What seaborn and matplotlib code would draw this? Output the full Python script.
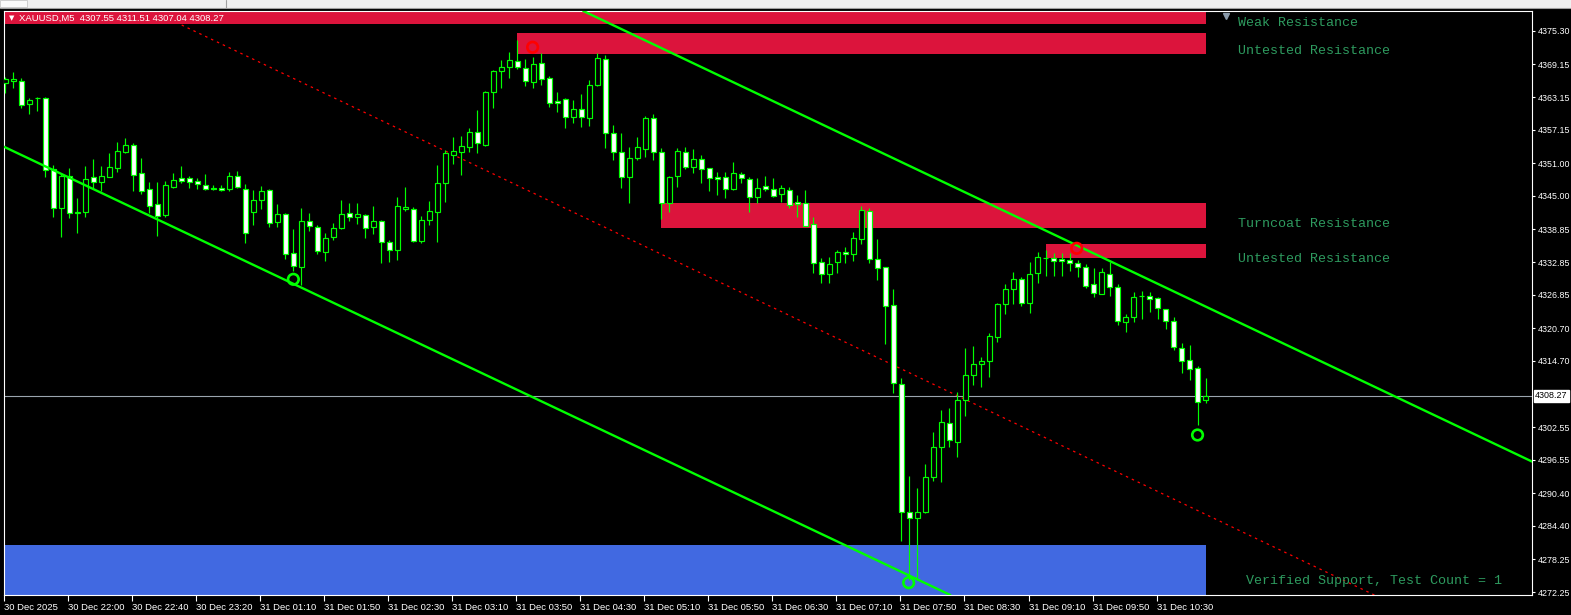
import numpy as np
import matplotlib
matplotlib.use("Agg")
import matplotlib.pyplot as plt
import matplotlib.transforms as mtransforms
from matplotlib.patches import Rectangle
from matplotlib.lines import Line2D
import seaborn as sns

# ---------------- data ----------------
symbol_title = "XAUUSD,M5  4307.55 4311.51 4307.04 4308.27"

opens = [4365.69, 4366.06, 4366.12, 4361.84, 4362.90, 4362.94, 4349.90, 4342.73, 4348.67, 4341.81,
         4342.00, 4348.43, 4347.51, 4348.54, 4350.19, 4353.13, 4354.30, 4349.16, 4346.22, 4343.47,
         4341.50, 4346.70, 4348.30, 4348.24, 4347.69, 4346.96, 4346.41, 4346.46, 4346.33, 4348.61,
         4346.22, 4342.00, 4344.26, 4346.09, 4340.27, 4341.63, 4334.47, 4331.89, 4340.45, 4339.30,
         4334.65, 4337.41, 4339.06, 4341.81, 4341.08, 4341.45, 4339.24, 4340.34, 4336.49, 4335.07,
         4342.55, 4342.60, 4336.78, 4340.58, 4342.11, 4347.32, 4352.58, 4353.13, 4354.05, 4356.75,
         4354.36, 4364.04, 4368.01, 4368.63, 4369.73, 4368.56, 4365.99, 4369.37, 4366.61, 4362.44,
         4362.75, 4359.56, 4360.92, 4359.26, 4365.38, 4370.10, 4356.51, 4353.13, 4348.54, 4351.92,
         4353.57, 4359.26, 4353.02, 4343.65, 4348.67, 4353.13, 4350.37, 4351.73, 4350.08, 4348.43,
         4348.43, 4346.22, 4349.03, 4348.06, 4344.86, 4346.83, 4346.22, 4345.30, 4346.09, 4343.94,
         4343.65, 4339.79, 4332.81, 4330.61, 4332.81, 4334.65, 4334.28, 4337.15, 4342.24, 4333.36,
         4331.89, 4324.91, 4310.40, 4286.89, 4285.79, 4287.00, 4293.32, 4298.83, 4303.24, 4299.86,
         4307.52, 4312.06, 4314.08, 4314.74, 4319.15, 4325.10, 4327.85, 4329.69, 4325.28, 4330.79,
         4333.60, 4333.55, 4333.45, 4333.29, 4332.63, 4332.00, 4328.77, 4327.05, 4330.61, 4328.22,
         4321.90, 4322.71, 4326.60, 4326.68, 4326.20, 4324.23, 4321.97, 4317.01, 4314.81, 4313.34,
         4307.55]
highs = [4366.85, 4367.77, 4366.61, 4363.05, 4363.23, 4363.12, 4350.69, 4349.16, 4350.08, 4344.68,
         4350.50, 4351.79, 4350.50, 4352.94, 4354.97, 4355.59, 4354.67, 4352.03, 4347.62, 4347.62,
         4347.75, 4349.16, 4350.50, 4348.67, 4348.24, 4348.98, 4346.96, 4347.07, 4349.46, 4349.58,
         4347.14, 4346.09, 4346.83, 4346.20, 4343.52, 4341.81, 4338.93, 4342.73, 4341.81, 4339.66,
         4338.14, 4339.98, 4344.26, 4343.65, 4343.65, 4341.69, 4343.15, 4340.58, 4336.91, 4344.86,
         4346.70, 4342.92, 4341.32, 4344.07, 4350.69, 4353.44, 4355.88, 4356.01, 4357.54, 4360.79,
         4364.28, 4368.14, 4369.97, 4371.39, 4373.65, 4370.16, 4370.58, 4371.20, 4367.03, 4364.15,
         4362.94, 4362.63, 4363.73, 4366.30, 4371.20, 4370.89, 4358.03, 4356.51, 4354.05, 4355.77,
         4359.69, 4360.00, 4353.75, 4348.72, 4353.86, 4354.05, 4353.57, 4352.52, 4350.10, 4349.46,
         4349.46, 4351.29, 4349.46, 4348.54, 4348.24, 4348.67, 4348.24, 4347.01, 4346.70, 4345.18,
         4346.09, 4341.19, 4333.55, 4333.73, 4335.07, 4335.68, 4338.43, 4343.15, 4342.73, 4337.09,
         4331.95, 4327.91, 4311.50, 4293.56, 4291.30, 4295.76, 4301.59, 4305.68, 4305.99, 4309.04,
         4317.01, 4317.44, 4315.36, 4319.77, 4325.28, 4328.83, 4331.03, 4330.06, 4332.92, 4334.76,
         4335.07, 4334.47, 4334.47, 4334.47, 4333.24, 4332.45, 4331.71, 4331.71, 4332.92, 4328.77,
         4323.32, 4327.41, 4327.54, 4327.30, 4326.38, 4324.30, 4322.71, 4317.93, 4317.62, 4313.76,
         4311.51]
lows = [4363.91, 4364.83, 4361.10, 4360.00, 4360.66, 4348.43, 4341.19, 4337.41, 4340.90, 4338.14,
        4341.19, 4346.28, 4345.91, 4348.40, 4349.46, 4352.84, 4345.91, 4345.30, 4341.92, 4337.70,
        4341.19, 4346.52, 4347.32, 4346.52, 4346.22, 4346.09, 4346.09, 4345.96, 4345.96, 4346.41,
        4336.41, 4339.72, 4342.60, 4339.35, 4339.35, 4333.42, 4331.27, 4328.59, 4338.62, 4334.34,
        4333.05, 4336.91, 4338.93, 4340.45, 4339.79, 4337.33, 4338.01, 4332.63, 4332.81, 4333.24,
        4342.29, 4336.60, 4336.30, 4339.66, 4336.60, 4343.94, 4350.87, 4348.85, 4353.13, 4352.84,
        4354.18, 4361.10, 4364.78, 4366.61, 4368.40, 4365.25, 4364.89, 4365.38, 4361.28, 4360.48,
        4357.43, 4358.35, 4357.61, 4357.85, 4365.25, 4353.75, 4351.60, 4346.41, 4343.65, 4351.60,
        4352.21, 4351.60, 4340.71, 4342.00, 4346.59, 4349.90, 4349.27, 4347.43, 4345.96, 4345.18,
        4344.57, 4346.09, 4347.32, 4342.11, 4343.65, 4345.96, 4344.75, 4343.94, 4342.73, 4341.19,
        4339.40, 4330.79, 4329.07, 4329.07, 4330.79, 4332.63, 4333.05, 4336.17, 4332.63, 4329.56,
        4317.75, 4308.75, 4281.67, 4274.45, 4274.45, 4286.82, 4292.70, 4292.40, 4298.83, 4297.10,
        4304.63, 4310.27, 4309.85, 4311.80, 4318.23, 4323.32, 4325.10, 4324.79, 4323.55, 4328.96,
        4330.35, 4330.35, 4330.35, 4331.27, 4330.17, 4328.04, 4326.49, 4326.93, 4326.62, 4321.30,
        4320.06, 4321.90, 4322.40, 4323.74, 4322.40, 4320.56, 4316.70, 4312.53, 4311.19, 4302.93,
        4307.04]
closes = [4366.48, 4366.43, 4361.65, 4362.63, 4362.96, 4349.77, 4342.73, 4348.67, 4341.81, 4342.00,
          4348.11, 4347.51, 4348.67, 4350.26, 4353.26, 4354.36, 4348.85, 4345.96, 4343.21, 4341.37,
          4346.96, 4347.93, 4347.80, 4347.62, 4347.14, 4346.22, 4346.22, 4346.09, 4348.61, 4346.59,
          4338.14, 4344.26, 4345.91, 4339.98, 4341.69, 4334.28, 4332.13, 4340.45, 4339.48, 4334.94,
          4337.22, 4339.06, 4341.63, 4341.08, 4341.63, 4339.06, 4340.34, 4336.49, 4335.02, 4343.15,
          4343.03, 4336.78, 4340.58, 4342.18, 4347.32, 4352.84, 4353.20, 4354.18, 4356.75, 4354.67,
          4364.10, 4367.95, 4368.69, 4369.97, 4368.63, 4366.17, 4369.18, 4366.54, 4362.02, 4362.02,
          4359.56, 4360.92, 4359.56, 4365.38, 4370.29, 4356.51, 4353.02, 4348.43, 4351.92, 4353.94,
          4359.26, 4353.02, 4343.65, 4348.43, 4353.31, 4350.37, 4351.73, 4349.95, 4348.24, 4348.06,
          4346.22, 4349.16, 4348.24, 4344.86, 4346.41, 4346.22, 4345.05, 4346.41, 4343.28, 4343.52,
          4339.54, 4332.63, 4330.61, 4332.45, 4334.65, 4334.28, 4337.22, 4342.36, 4333.36, 4331.71,
          4324.84, 4310.59, 4286.89, 4285.79, 4286.89, 4293.32, 4298.83, 4303.42, 4300.17, 4307.52,
          4312.06, 4314.08, 4314.68, 4319.27, 4325.15, 4327.85, 4329.69, 4325.28, 4330.66, 4333.73,
          4333.66, 4333.11, 4333.11, 4332.63, 4331.89, 4328.51, 4327.23, 4330.98, 4328.22, 4322.09,
          4322.71, 4326.38, 4326.64, 4326.02, 4324.36, 4322.09, 4317.31, 4314.74, 4313.16, 4307.21,
          4308.27]

time_labels = ["30 Dec 2025", "30 Dec 22:00", "30 Dec 22:40", "30 Dec 23:20", "31 Dec 01:10",
               "31 Dec 01:50", "31 Dec 02:30", "31 Dec 03:10", "31 Dec 03:50", "31 Dec 04:30",
               "31 Dec 05:10", "31 Dec 05:50", "31 Dec 06:30", "31 Dec 07:10", "31 Dec 07:50",
               "31 Dec 08:30", "31 Dec 09:10", "31 Dec 09:50", "31 Dec 10:30"]
bars_per_label = 8

price_ticks = [4375.30, 4369.15, 4363.15, 4357.15, 4351.00, 4345.00, 4338.85, 4332.85, 4326.85,
               4320.70, 4314.70, 4302.55, 4296.55, 4290.40, 4284.40, 4278.25, 4272.25]

# supply / demand zones
zone_names = ["Weak Resistance", "Untested Resistance", "Turncoat Resistance",
              "Untested Resistance", "Verified Support, Test Count = 1"]
zone_start = [-5, 64, 82, 130, -5]
zone_end = [150, 150, 150, 150, 150]
zone_low = [4376.59, 4371.08, 4339.17, 4333.66, 4260.00]
zone_high = [4385.00, 4374.88, 4343.76, 4336.17, 4280.88]
zone_kind = ["res", "res", "res", "res", "sup"]
label_x = [154.0, 154.0, 154.0, 154.0, 155.0]
label_price = [4376.77, 4371.63, 4339.85, 4333.42, 4274.27]

# channel anchors (bar index, price)
lower_channel = [(0, 4353.92), (100, 4284.30)]
upper_channel = [(100, 4359.59), (150, 4324.69)]
mid_channel = [(100, 4321.64), (150, 4286.52)]

# fractal markers
green_marks_x = [36.0, 112.9, 149.0]
green_marks_y = [4329.69, 4273.96, 4301.09]
red_marks_x = [65.9, 133.9]
red_marks_y = [4372.31, 4335.38]

last_price = 4308.27
shift_bar = 152.5

# ---------------- style ----------------
LIME = "#00FF00"
CRIMSON = "#DC143C"
ROYAL = "#4169E1"
LABEL_GREEN = "#2E9B5F"

sns.set_theme(style="dark", rc={"axes.facecolor": "black", "figure.facecolor": "black",
                                "axes.edgecolor": "white", "text.color": "white",
                                "xtick.color": "white", "ytick.color": "white",
                                "axes.grid": False})
plt.rcParams["font.family"] = ["Liberation Sans", "DejaVu Sans"]

W, H = 1571, 615
fig = plt.figure(figsize=(W / 100, H / 100), dpi=100, facecolor="black")
ax = fig.add_axes([4 / W, (H - 595) / H, 1528 / W, 584 / H])
ax.set_facecolor("black")
ax.grid(False)

n = len(opens)
idx = np.arange(n)
o = np.array(opens); h = np.array(highs); l = np.array(lows); c = np.array(closes)
bull = c >= o

# zones (background)
for s, e, lo, hi, kind in zip(zone_start, zone_end, zone_low, zone_high, zone_kind):
    ax.fill_between([s, e], lo, hi, color=CRIMSON if kind == "res" else ROYAL,
                    linewidth=0, zorder=1.5)

# channel mid line (dotted red, under zones)
ax.axline(mid_channel[0], mid_channel[1], color="#FF0000", lw=0.9,
          linestyle=(0, (2, 3.2)), zorder=1.2)

# current price line
ax.axhline(last_price, color="#9AA4AE", lw=0.8, zorder=2)

# candles
ax.vlines(idx, l, h, color=LIME, lw=0.85, zorder=3)
body_lo = np.minimum(o, c)
body_h = np.maximum(np.abs(c - o), 0.05)
ax.bar(idx, body_h, bottom=body_lo, width=0.56,
       color=np.where(bull, "black", "white"), edgecolor=LIME, linewidth=0.85, zorder=3.5)

# channel lines
for a, b in (lower_channel, upper_channel):
    ax.axline(a, b, color=LIME, lw=1.7, zorder=4)

# fractal circles
sns.scatterplot(x=green_marks_x, y=green_marks_y, ax=ax, marker="o", s=58,
                facecolors="none", edgecolor=LIME, linewidth=1.9, zorder=5)
sns.scatterplot(x=red_marks_x, y=red_marks_y, ax=ax, marker="o", s=58,
                facecolors="none", edgecolor="#FF0000", linewidth=1.9, zorder=5)

# zone labels
for name, lx, lp in zip(zone_names, label_x, label_price):
    ax.text(lx, lp, name, color=LABEL_GREEN, fontsize=9.6, family="Liberation Mono",
            va="center", ha="left", zorder=6)

# axes limits / ticks
ax.set_xlim(-0.1625, 190.8)
ax.set_ylim(4271.70, 4378.97)
xt = [k * bars_per_label - 0.125 for k in range(len(time_labels))]
ax.set_xticks(xt)
ax.set_xticklabels(time_labels, ha="left", fontsize=6.8)
ax.yaxis.tick_right()
ax.set_yticks(price_ticks)
ax.set_yticklabels([f"{v:.2f}" for v in price_ticks], fontsize=6.4)
ax.tick_params(axis="x", direction="out", length=4, width=0.8, pad=1.5, colors="white", bottom=True)
ax.tick_params(axis="y", direction="out", length=2.5, width=0.8, pad=1.5, colors="white", right=True, left=False)
for sp in ax.spines.values():
    sp.set_visible(True)
    sp.set_color("white")
    sp.set_linewidth(0.8)

# current price box on the price scale
ax.annotate(f"{last_price:.2f}", xy=(1, last_price), xycoords=("axes fraction", "data"),
            xytext=(2.2, 0), textcoords="offset points", va="center", ha="left",
            fontsize=6.4, color="black", zorder=7, annotation_clip=False,
            bbox=dict(boxstyle="square,pad=0.15", fc="white", ec="white"))

# chart-shift marker
trans = mtransforms.blended_transform_factory(ax.transData, ax.transAxes)
ax.plot([shift_bar], [0.992], marker="v", color="#8A9AAA", ms=5, transform=trans,
        clip_on=False, zorder=7)

# title on the chart
fig.text(9 / W, 1 - 18.5 / H, "\u25BC", color="white", fontsize=5, va="center", ha="left",
         family="DejaVu Sans")
fig.text(19 / W, 1 - 18 / H, symbol_title, color="white", fontsize=6.8, va="center", ha="left")

# window chrome above the chart
fig.add_artist(Rectangle((0, 1 - 7.5 / H), 1, 7.5 / H, transform=fig.transFigure,
                         facecolor="#F0F0F0", edgecolor="none"))
fig.add_artist(Line2D([0, 1], [1 - 7.5 / H, 1 - 7.5 / H], transform=fig.transFigure,
                      color="#A0A0A0", lw=0.8))
fig.add_artist(Line2D([226 / W, 226 / W], [1, 1 - 7.5 / H], transform=fig.transFigure,
                      color="#A0A0A0", lw=0.8))
fig.add_artist(Rectangle((0, 1 - 7 / H), 27 / W, 7 / H, transform=fig.transFigure,
                         facecolor="#FAFAFA", edgecolor="#C8C8C8", lw=0.6))

fig.savefig("out.png", dpi=100, facecolor="black")
